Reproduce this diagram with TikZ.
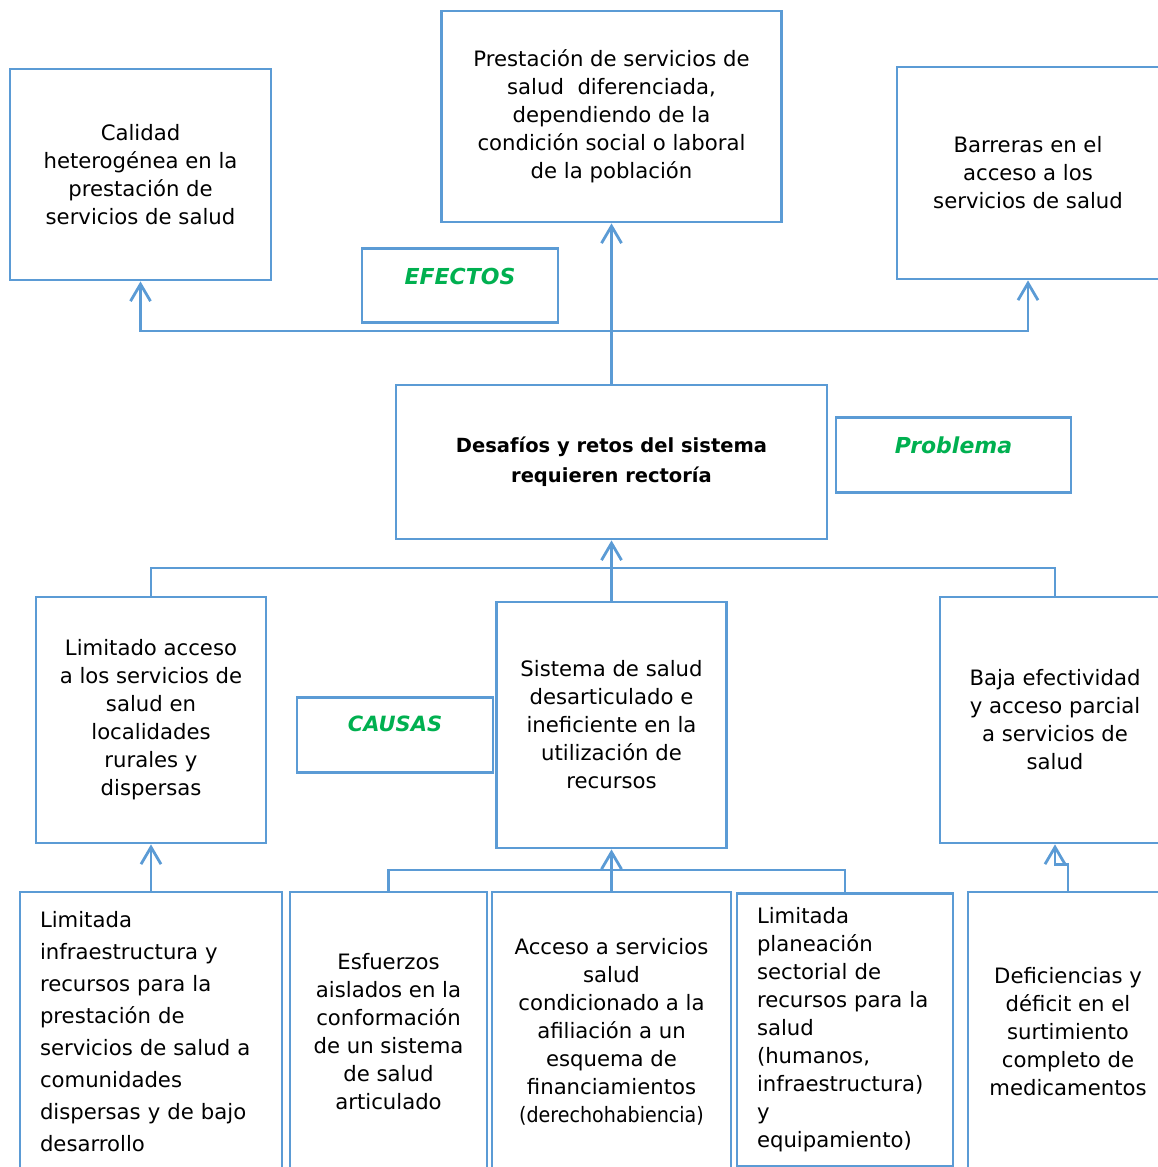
\documentclass[tikz,border=0pt]{standalone}
\usepackage{fontspec}
\setmainfont{DejaVu Sans}
\usetikzlibrary{arrows.meta}
\definecolor{boxblue}{HTML}{5B9BD5}
\definecolor{taggreen}{HTML}{00B050}
\newcommand{\boxtext}{\fontsize{21.2}{28}\selectfont}
\tikzset{
	box/.style={draw=boxblue, line width=2.8pt, rectangle, inner sep=0pt, align=center, font=\boxtext, text=black},
	tag/.style={draw=boxblue, line width=2.8pt, rectangle, inner sep=0pt, anchor=north, font=\fontsize{22}{26}\selectfont\bfseries\itshape, text=taggreen},
	link/.style={draw=boxblue, line width=2.8pt},
	arr/.style={link, -{Straight Barb[length=17pt,width=20pt]}}
}

\begin{document}
\begin{tikzpicture}[x=1pt, y=-1pt]
		%%%%% START %%%%%
		\useasboundingbox (0, 0) rectangle (1157, 1167);
		
		% efectos
		\node[box, minimum width=261pt, minimum height=211pt] (eff1) at (140.5, 174.5) {Calidad\\heterogénea en la\\prestación de\\servicios de salud};
		\node[box, minimum width=340pt, minimum height=211pt] (eff2) at (611.5, 116.5) {Prestación de servicios de\\salud\ \ diferenciada,\\dependiendo de la\\condición social o laboral\\de la población};
		\node[box, minimum width=262pt, minimum height=212pt] (eff3) at (1028, 173) {Barreras en el\\acceso a los\\servicios de salud};
		\node[tag, minimum width=196pt, text height=36pt, text depth=38pt] (efectos) at (460, 247) {EFECTOS};
		
		% problema
		\node[box, minimum width=431pt, minimum height=154pt, font=\fontsize{19.5}{30}\selectfont\bfseries] (prob) at (611.5, 462) {Desafíos y retos del sistema\\requieren rectoría};
		\node[tag, minimum width=235pt, text height=36pt, text depth=39pt] (problema) at (953.5, 416) {Problema};
		
		% causas
		\node[box, minimum width=230pt, minimum height=246pt] (c1) at (151, 720) {Limitado acceso\\a los servicios de\\salud en\\localidades\\rurales y\\dispersas};
		\node[box, minimum width=230pt, minimum height=246pt] (c2) at (611.5, 725) {Sistema de salud\\desarticulado e\\ineficiente en la\\utilización de\\recursos};
		\node[box, minimum width=230pt, minimum height=246pt] (c3) at (1055, 720) {Baja efectividad\\y acceso parcial\\a servicios de\\salud};
		\node[tag, minimum width=196pt, text height=34pt, text depth=41pt, font=\fontsize{21}{26}\selectfont\bfseries\itshape] (causas) at (395, 696) {CAUSAS};
		
		\node[box, minimum width=262pt, minimum height=280pt, align=left, text width=222pt, font=\fontsize{21.2}{32}\selectfont] (d1) at (151, 1032) {Limitada\\infraestructura y\\recursos para la\\prestación de\\servicios de salud a\\comunidades\\dispersas y de bajo\\desarrollo};
		\node[box, minimum width=197pt, minimum height=280pt] (d2) at (388.5, 1032) {Esfuerzos\\aislados en la\\conformación\\de un sistema\\de salud\\articulado};
		\node[box, minimum width=239pt, minimum height=280pt] (d3) at (611.5, 1032) {Acceso a servicios\\salud\\condicionado a la\\afiliación a un\\esquema de\\financiamientos\\\scalebox{0.9}[1]{(derechohabiencia)}};
		\node[box, minimum width=216pt, minimum height=273pt, align=left, text width=176pt] (d4) at (845, 1030) {Limitada\\planeación\\sectorial de\\recursos para la\\salud\\(humanos,\\infraestructura)\\y\\equipamiento)};
		\node[box, minimum width=200pt, minimum height=280pt] (d5) at (1068, 1032) {Deficiencias y\\déficit en el\\surtimiento\\completo de\\medicamentos};
		
		% conectores
		\coordinate (ej) at (611.5, 331);
		\draw[arr] (prob.north) -- (eff2.south);
		\draw[arr] (ej) -| (eff1.south);
		\draw[arr] (ej) -| (eff3.south);
		
		\coordinate (cj) at (611.5, 568);
		\draw[link] (cj) -| (c1.north);
		\draw[link] (cj) -| (c3.north);
		\draw[arr] (c2.north) -- (prob.south);
		
		\coordinate (dj) at (611.5, 870);
		\draw[link] (dj) -| (d2.north);
		\draw[link] (dj) -| (d4.north);
		\draw[arr] (d3.north) -- (c2.south);
		\draw[arr] (d1.north) -- (c1.south);
		\draw[arr] (d5.north) -- ++(0, -26) -| (c3.south);
		
		%%%%% END %%%%%
	\end{tikzpicture}
\end{document}
